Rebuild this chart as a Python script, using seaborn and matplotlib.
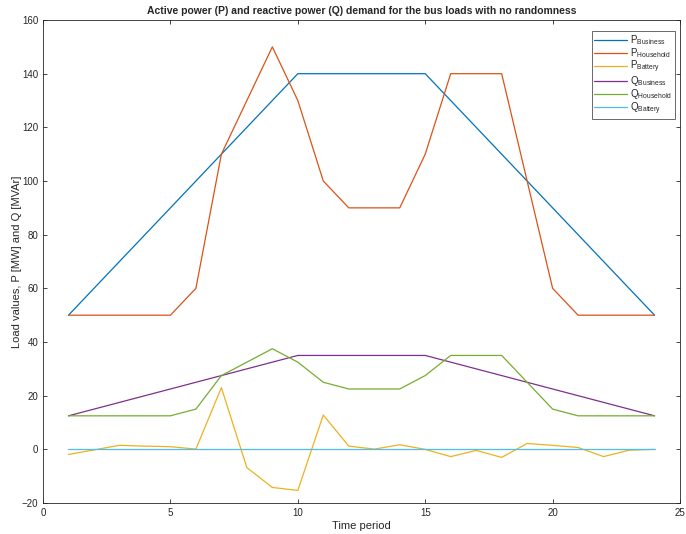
import numpy as np
import pandas as pd
import matplotlib
matplotlib.use('Agg')
import matplotlib.pyplot as plt
import seaborn as sns

# Values (time periods 1..24)
time_period = list(range(1, 25))
p_business = [50, 60, 70, 80, 90, 100, 110, 120, 130, 140, 140, 140, 140, 140, 140,
              130, 120, 110, 100, 90, 80, 70, 60, 50]
p_household = [50, 50, 50, 50, 50, 60, 110, 130, 150, 130, 100, 90, 90, 90, 110,
               140, 140, 140, 100, 60, 50, 50, 50, 50]
p_battery = [-1.9, -0.2, 1.5, 1.2, 1.0, 0.1, 23.0, -6.8, -14.2, -15.3, 12.8, 1.2, 0.1, 1.7, 0.0,
             -2.7, -0.4, -3.0, 2.2, 1.5, 0.7, -2.7, -0.3, 0.0]
q_business = [12.5, 15, 17.5, 20, 22.5, 25, 27.5, 30, 32.5, 35, 35, 35, 35, 35, 35,
              32.5, 30, 27.5, 25, 22.5, 20, 17.5, 15, 12.5]
q_household = [12.5, 12.5, 12.5, 12.5, 12.5, 15, 27.5, 32.5, 37.5, 32.5, 25, 22.5, 22.5, 22.5, 27.5,
               35, 35, 35, 25, 15, 12.5, 12.5, 12.5, 12.5]
q_battery = [0] * 24

labels = [r'P$_\mathregular{Business}$', r'P$_\mathregular{Household}$', r'P$_\mathregular{Battery}$',
          r'Q$_\mathregular{Business}$', r'Q$_\mathregular{Household}$', r'Q$_\mathregular{Battery}$']
colors = ['#0072BD', '#D95319', '#EDB120', '#7E2F8E', '#77AC30', '#4DBEEE']

series = [p_business, p_household, p_battery, q_business, q_household, q_battery]
frames = []
for lab, vals in zip(labels, series):
    frames.append(pd.DataFrame({'t': time_period, 'value': vals, 'load': lab}))
data = pd.concat(frames, ignore_index=True)

sns.set_style('white')
plt.rcParams['font.family'] = ['Liberation Sans', 'DejaVu Sans']
plt.rcParams['mathtext.fontset'] = 'custom'
plt.rcParams['mathtext.rm'] = 'Liberation Sans'

fig = plt.figure(figsize=(6.86, 5.34), dpi=100)
ax = fig.add_axes([0.0627, 0.058, 0.9286, 0.9045])

sns.lineplot(data=data, x='t', y='value', hue='load', hue_order=labels,
             palette=dict(zip(labels, colors)), linewidth=0.9, ax=ax)

ax.set_xlim(0, 25)
ax.set_ylim(-20, 160)
ax.set_xticks([0, 5, 10, 15, 20, 25])
ax.set_yticks(np.arange(-20, 161, 20))
ax.tick_params(direction='in', length=3, width=0.6, labelsize=7, colors='#262626',
               top=True, right=True, bottom=True, left=True)
for s in ax.spines.values():
    s.set_color('#262626')
    s.set_linewidth(0.6)

ax.set_xlabel('Time period', fontsize=8, color='#262626', labelpad=2)
ax.set_ylabel('Load values, P [MW] and Q [MVAr]', fontsize=8, color='#262626', labelpad=0)
ax.set_title('Active power (P) and reactive power (Q) demand for the bus loads with no randomness',
             fontsize=7.5, fontweight='bold', pad=4)

leg = ax.legend(loc='upper right', fontsize=7, frameon=True, fancybox=False,
                edgecolor='#262626', handlelength=3.4, handletextpad=0.3,
                labelspacing=-0.1, borderpad=0.25, bbox_to_anchor=(0.999, 0.988))
leg.get_frame().set_linewidth(0.6)

fig.savefig('out.png', dpi=100)
